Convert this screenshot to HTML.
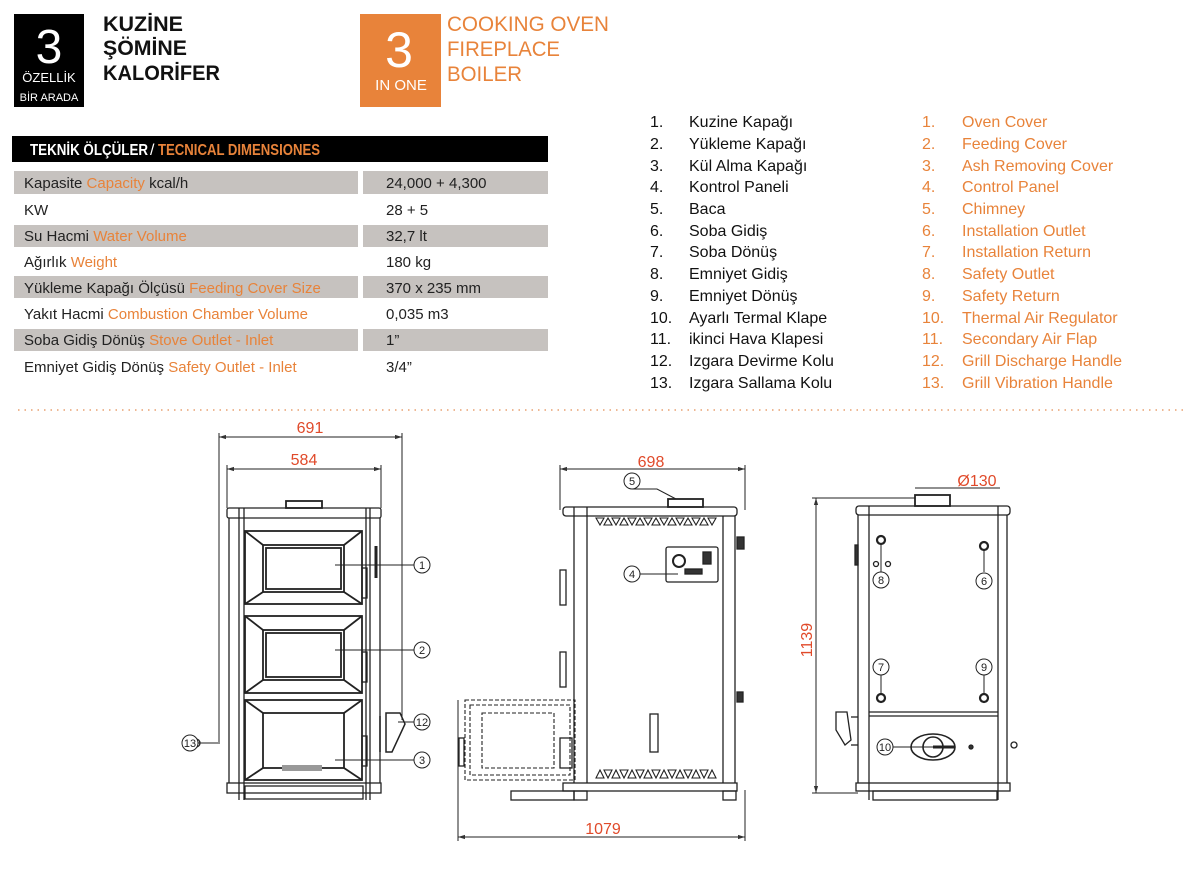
<!DOCTYPE html>
<html><head><meta charset="utf-8"><style>
html,body{margin:0;padding:0;background:#fff;width:1200px;height:870px;overflow:hidden}
svg{display:block}
text{font-family:"Liberation Sans","DejaVu Sans",sans-serif}
</style></head><body>
<svg width="1200" height="870" viewBox="0 0 1200 870" xmlns="http://www.w3.org/2000/svg">
<!-- header -->
<rect x="14" y="14" width="70" height="93" fill="#000"/>
<text x="49" y="63" font-size="48" fill="#fff" text-anchor="middle">3</text>
<text x="49" y="82" font-size="13" fill="#fff" text-anchor="middle">ÖZELLİK</text>
<text x="49" y="101" font-size="11" fill="#fff" text-anchor="middle">BİR ARADA</text>
<g font-size="21" font-weight="bold" fill="#111">
<text x="103" y="31" textLength="80" lengthAdjust="spacingAndGlyphs">KUZİNE</text>
<text x="103" y="55" textLength="84" lengthAdjust="spacingAndGlyphs">ŞÖMİNE</text>
<text x="103" y="80" textLength="117" lengthAdjust="spacingAndGlyphs">KALORİFER</text>
</g>
<rect x="360" y="14" width="81" height="93" fill="#e8833a"/>
<text x="399" y="67" font-size="50" fill="#fff" text-anchor="middle">3</text>
<text x="401" y="90" font-size="15" fill="#fff" text-anchor="middle">IN ONE</text>
<g font-size="21" fill="#e8833a">
<text x="447" y="31" textLength="162" lengthAdjust="spacingAndGlyphs">COOKING OVEN</text>
<text x="447" y="56" textLength="113" lengthAdjust="spacingAndGlyphs">FIREPLACE</text>
<text x="447" y="81" textLength="75" lengthAdjust="spacingAndGlyphs">BOILER</text>
</g>
<!-- table -->
<rect x="12" y="136" width="536" height="26" fill="#000"/>
<text x="30" y="155" font-size="16" font-weight="bold" fill="#fff" textLength="118" lengthAdjust="spacingAndGlyphs">TEKNİK ÖLÇÜLER</text>
<text x="150" y="155" font-size="16" fill="#fff">/</text>
<text x="158" y="155" font-size="16" font-weight="bold" fill="#e8833a" textLength="162" lengthAdjust="spacingAndGlyphs">TECNICAL DIMENSIONES</text>
<g fill="#c6c2bf">
<rect x="14" y="171" width="344" height="23"/><rect x="363" y="171" width="185" height="23"/>
<rect x="14" y="225" width="344" height="22"/><rect x="363" y="225" width="185" height="22"/>
<rect x="14" y="276" width="344" height="22"/><rect x="363" y="276" width="185" height="22"/>
<rect x="14" y="329" width="344" height="22"/><rect x="363" y="329" width="185" height="22"/>
</g>
<g font-size="15" fill="#222">
<text x="24" y="188">Kapasite <tspan fill="#e8833a">Capacity</tspan>  kcal/h</text>
<text x="24" y="215">KW</text>
<text x="24" y="241">Su Hacmi  <tspan fill="#e8833a">Water Volume</tspan></text>
<text x="24" y="267">Ağırlık <tspan fill="#e8833a">Weight</tspan></text>
<text x="24" y="293">Yükleme Kapağı Ölçüsü <tspan fill="#e8833a">Feeding Cover Size</tspan></text>
<text x="24" y="319">Yakıt Hacmi <tspan fill="#e8833a">Combustion Chamber Volume</tspan></text>
<text x="24" y="345">Soba Gidiş Dönüş <tspan fill="#e8833a">Stove Outlet - Inlet</tspan></text>
<text x="24" y="372">Emniyet Gidiş Dönüş <tspan fill="#e8833a">Safety Outlet - Inlet</tspan></text>
<text x="386" y="188">24,000 + 4,300</text>
<text x="386" y="215">28 + 5</text>
<text x="386" y="241">32,7 lt</text>
<text x="386" y="267">180 kg</text>
<text x="386" y="293">370 x 235 mm</text>
<text x="386" y="319">0,035 m3</text>
<text x="386" y="345">1”</text>
<text x="386" y="372">3/4”</text>
</g>
<!-- lists -->
<g font-size="16" fill="#111">
<text x="650" y="127">1.</text><text x="689" y="127">Kuzine Kapağı</text>
<text x="650" y="149">2.</text><text x="689" y="149">Yükleme Kapağı</text>
<text x="650" y="171">3.</text><text x="689" y="171">Kül Alma Kapağı</text>
<text x="650" y="192">4.</text><text x="689" y="192">Kontrol Paneli</text>
<text x="650" y="214">5.</text><text x="689" y="214">Baca</text>
<text x="650" y="236">6.</text><text x="689" y="236">Soba Gidiş</text>
<text x="650" y="257">7.</text><text x="689" y="257">Soba Dönüş</text>
<text x="650" y="279">8.</text><text x="689" y="279">Emniyet Gidiş</text>
<text x="650" y="301">9.</text><text x="689" y="301">Emniyet Dönüş</text>
<text x="650" y="323">10.</text><text x="689" y="323">Ayarlı Termal Klape</text>
<text x="650" y="344">11.</text><text x="689" y="344">ikinci Hava Klapesi</text>
<text x="650" y="366">12.</text><text x="689" y="366">Izgara Devirme Kolu</text>
<text x="650" y="388">13.</text><text x="689" y="388">Izgara Sallama Kolu</text>
</g>
<g font-size="16" fill="#e8833a">
<text x="922" y="127">1.</text><text x="962" y="127">Oven Cover</text>
<text x="922" y="149">2.</text><text x="962" y="149">Feeding Cover</text>
<text x="922" y="171">3.</text><text x="962" y="171">Ash Removing Cover</text>
<text x="922" y="192">4.</text><text x="962" y="192">Control Panel</text>
<text x="922" y="214">5.</text><text x="962" y="214">Chimney</text>
<text x="922" y="236">6.</text><text x="962" y="236">Installation Outlet</text>
<text x="922" y="257">7.</text><text x="962" y="257">Installation Return</text>
<text x="922" y="279">8.</text><text x="962" y="279">Safety Outlet</text>
<text x="922" y="301">9.</text><text x="962" y="301">Safety Return</text>
<text x="922" y="323">10.</text><text x="962" y="323">Thermal Air Regulator</text>
<text x="922" y="344">11.</text><text x="962" y="344">Secondary Air Flap</text>
<text x="922" y="366">12.</text><text x="962" y="366">Grill Discharge Handle</text>
<text x="922" y="388">13.</text><text x="962" y="388">Grill Vibration Handle</text>
</g>
<line x1="18" y1="410" x2="1186" y2="410" stroke="#e8a070" stroke-width="1.5" stroke-dasharray="1.5 5"/>

<defs>
<marker id="ar" viewBox="0 0 10 10" refX="10" refY="5" markerWidth="7" markerHeight="7" orient="auto-start-reverse"><path d="M0,2 L10,5 L0,8z" fill="#333"/></marker>
</defs>
<g stroke="#222" stroke-width="1.3" fill="none">
<!-- FRONT VIEW dims -->
<line x1="219" y1="437" x2="402" y2="437" stroke-width="1" marker-start="url(#ar)" marker-end="url(#ar)"/>
<line x1="219" y1="433" x2="219" y2="742" stroke-width="1"/>
<line x1="402" y1="433" x2="402" y2="720" stroke-width="1"/>
<line x1="227" y1="469" x2="381" y2="469" stroke-width="1" marker-start="url(#ar)" marker-end="url(#ar)"/>
<line x1="227" y1="465" x2="227" y2="508" stroke-width="1"/>
<line x1="381" y1="465" x2="381" y2="508" stroke-width="1"/>
<!-- front body -->
<rect x="286" y="501" width="36" height="7" fill="#fff" stroke-width="1.8"/>
<rect x="227" y="508" width="154" height="10" rx="2"/>
<line x1="239" y1="508" x2="239" y2="800"/><line x1="244" y1="508" x2="244" y2="800"/>
<line x1="366" y1="508" x2="366" y2="800"/><line x1="370" y1="508" x2="370" y2="800"/>
<line x1="229" y1="518" x2="229" y2="783"/><line x1="380" y1="518" x2="380" y2="783"/>
<rect x="227" y="783" width="154" height="10"/>
<rect x="245" y="786" width="118" height="13"/>
<line x1="376" y1="546" x2="376" y2="578" stroke-width="3"/>
<!-- doors -->
<g stroke-width="1.8">
<rect x="245" y="531" width="117" height="73"/><rect x="263" y="545" width="81" height="47"/><rect x="266" y="548" width="75" height="41"/>
<path d="M245,531 L263,545 M362,531 L344,545 M245,604 L263,592 M362,604 L344,592"/>
<rect x="245" y="616" width="117" height="77"/><rect x="263" y="630" width="81" height="50"/><rect x="266" y="633" width="75" height="44"/>
<path d="M245,616 L263,630 M362,616 L344,630 M245,693 L263,680 M362,693 L344,680"/>
<rect x="245" y="700" width="117" height="80"/><rect x="263" y="713" width="81" height="55"/>
<path d="M245,700 L263,713 M362,700 L344,713 M245,780 L263,768 M362,780 L344,768"/>
</g>
<rect x="282" y="765" width="40" height="6" fill="#999" stroke="none"/>
<rect x="362" y="568" width="5" height="30"/><rect x="362" y="652" width="5" height="30"/><rect x="362" y="736" width="5" height="30"/>
<!-- handle 12 -->
<path d="M380,716 L380,752 M386,713 L400,713 L405,724 L392,752 L386,752z" stroke-width="1.5"/>
<circle cx="196" cy="743" r="4" fill="#fff"/>
<!-- callouts front -->
<g stroke-width="1">
<line x1="335" y1="565" x2="414" y2="565"/><circle cx="422" cy="565" r="8" fill="#fff"/>
<line x1="335" y1="650" x2="414" y2="650"/><circle cx="422" cy="650" r="8" fill="#fff"/>
<line x1="335" y1="760" x2="414" y2="760"/><circle cx="422" cy="760" r="8" fill="#fff"/>
<line x1="398" y1="722" x2="414" y2="722"/><circle cx="422" cy="722" r="8" fill="#fff"/>
<line x1="198" y1="743" x2="220" y2="743"/><circle cx="190" cy="743" r="8" fill="#fff"/>
</g>

<!-- SIDE VIEW -->
<line x1="560" y1="469" x2="745" y2="469" stroke-width="1" marker-start="url(#ar)" marker-end="url(#ar)"/>
<line x1="560" y1="465" x2="560" y2="510" stroke-width="1"/><line x1="745" y1="465" x2="745" y2="510" stroke-width="1"/>
<line x1="458" y1="837" x2="745" y2="837" stroke-width="1" marker-start="url(#ar)" marker-end="url(#ar)"/>
<line x1="458" y1="700" x2="458" y2="841" stroke-width="1"/><line x1="745" y1="790" x2="745" y2="841" stroke-width="1"/>
<rect x="668" y="499" width="35" height="8" fill="#fff" stroke-width="1.8"/>
<rect x="563" y="507" width="174" height="9" rx="3"/>
<line x1="574" y1="507" x2="574" y2="783"/><line x1="587" y1="507" x2="587" y2="783"/>
<line x1="723" y1="516" x2="723" y2="783"/><line x1="735" y1="516" x2="735" y2="783"/>
<rect x="563" y="783" width="174" height="8"/>
<rect x="574" y="791" width="13" height="9"/><rect x="723" y="791" width="13" height="9"/>
<rect x="511" y="791" width="63" height="9"/>
<rect x="666" y="547" width="52" height="35" rx="2"/>
<circle cx="679" cy="561" r="6" stroke-width="2"/>
<rect x="685" y="569" width="17" height="5" fill="#333"/>
<rect x="703" y="552" width="8" height="12" fill="#333"/>
<rect x="560" y="570" width="6" height="35"/><rect x="560" y="652" width="6" height="35"/>
<rect x="737" y="537" width="7" height="12" fill="#333"/><rect x="737" y="692" width="6" height="10" fill="#333"/>
<rect x="650" y="714" width="8" height="38"/>
<g stroke-dasharray="4 2" stroke-width="1.1">
<rect x="465" y="700" width="110" height="80"/><rect x="470" y="705" width="100" height="70"/>
<rect x="482" y="713" width="72" height="55"/>
</g>
<rect x="459" y="738" width="5" height="28"/>
<rect x="560" y="738" width="12" height="30"/>
<g stroke-width="1">
<path d="M632,489 L657,489 L676,499"/><circle cx="632" cy="481" r="8" fill="#fff"/>
<line x1="640" y1="574" x2="678" y2="574"/><circle cx="632" cy="574" r="8" fill="#fff"/>
</g>

<!-- BACK VIEW -->
<line x1="816" y1="498" x2="816" y2="793" stroke-width="1" marker-start="url(#ar)" marker-end="url(#ar)"/>
<line x1="812" y1="498" x2="915" y2="498" stroke-width="1"/>
<line x1="812" y1="793" x2="858" y2="793" stroke-width="1"/>
<line x1="915" y1="488" x2="1000" y2="488" stroke-width="1"/>
<rect x="915" y="495" width="35" height="11" fill="#fff" stroke-width="1.8"/>
<rect x="856" y="506" width="154" height="9" rx="3"/>
<line x1="858" y1="515" x2="858" y2="783"/><line x1="869" y1="506" x2="869" y2="800"/>
<line x1="998" y1="506" x2="998" y2="800"/><line x1="1007" y1="515" x2="1007" y2="783"/>
<line x1="869" y1="712" x2="998" y2="712"/><line x1="869" y1="716" x2="998" y2="716"/>
<rect x="856" y="783" width="154" height="8"/>
<rect x="873" y="791" width="124" height="9"/>
<rect x="855" y="545" width="3" height="20" fill="#333"/>
<path d="M836,712 L847,712 L851,740 L845,745 L836,730z"/>
<line x1="851" y1="717" x2="858" y2="717"/><line x1="851" y1="745" x2="858" y2="745"/>
<circle cx="1014" cy="745" r="3"/>
<circle cx="881" cy="540" r="4" stroke-width="2.2"/><circle cx="984" cy="546" r="4" stroke-width="2.2"/>
<circle cx="876" cy="564" r="2.5"/><circle cx="888" cy="564" r="2.5"/>
<circle cx="881" cy="698" r="4" stroke-width="2.2"/><circle cx="984" cy="698" r="4" stroke-width="2.2"/>
<g stroke-width="1">
<line x1="881" y1="544" x2="881" y2="572"/><line x1="984" y1="550" x2="984" y2="572"/>
<line x1="881" y1="675" x2="881" y2="694"/><line x1="984" y1="675" x2="984" y2="694"/>
<circle cx="881" cy="580" r="8" fill="#fff"/><circle cx="984" cy="581" r="8" fill="#fff"/>
<circle cx="881" cy="667" r="8" fill="#fff"/><circle cx="984" cy="667" r="8" fill="#fff"/>
</g>
<ellipse cx="933" cy="747" rx="22" ry="13" stroke-width="1.6"/>
<circle cx="933" cy="747" r="10" stroke-width="1.6"/>
<line x1="933" y1="747" x2="955" y2="747" stroke-width="3"/>
<circle cx="971" cy="747" r="2" fill="#333"/>
<line x1="892" y1="747" x2="933" y2="747" stroke-width="1"/><circle cx="885" cy="747" r="8" fill="#fff" stroke-width="1"/>
</g>
<!-- vents on side -->
<g fill="none" stroke="#222" stroke-width="1.1">
<path d="M596,518 l8,0 l-4,7z M612,518 l8,0 l-4,7z M628,518 l8,0 l-4,7z M644,518 l8,0 l-4,7z M660,518 l8,0 l-4,7z M676,518 l8,0 l-4,7z M692,518 l8,0 l-4,7z M708,518 l8,0 l-4,7z"/>
<path d="M604,525 l8,0 l-4,-7z M620,525 l8,0 l-4,-7z M636,525 l8,0 l-4,-7z M652,525 l8,0 l-4,-7z M668,525 l8,0 l-4,-7z M684,525 l8,0 l-4,-7z M700,525 l8,0 l-4,-7z"/>
<path d="M596,778 l8,0 l-4,-8z M612,778 l8,0 l-4,-8z M628,778 l8,0 l-4,-8z M644,778 l8,0 l-4,-8z M660,778 l8,0 l-4,-8z M676,778 l8,0 l-4,-8z M692,778 l8,0 l-4,-8z M708,778 l8,0 l-4,-8z"/>
<path d="M604,770 l8,0 l-4,8z M620,770 l8,0 l-4,8z M636,770 l8,0 l-4,8z M652,770 l8,0 l-4,8z M668,770 l8,0 l-4,8z M684,770 l8,0 l-4,8z M700,770 l8,0 l-4,8z"/>
</g>
<!-- callout numbers -->
<g font-size="11" fill="#222" text-anchor="middle">
<text x="422" y="569">1</text><text x="422" y="654">2</text><text x="422" y="764">3</text><text x="422" y="726">12</text><text x="190" y="747">13</text>
<text x="632" y="485">5</text><text x="632" y="578">4</text>
<text x="881" y="584">8</text><text x="984" y="585">6</text><text x="881" y="671">7</text><text x="984" y="671">9</text><text x="885" y="751">10</text>
</g>
<!-- dimension labels -->
<g font-size="16" fill="#e04a2a" text-anchor="middle">
<text x="310" y="433">691</text>
<text x="304" y="465">584</text>
<text x="651" y="467">698</text>
<text x="603" y="834">1079</text>
<text x="977" y="486">Ø130</text>
<text x="0" y="0" transform="translate(812,640) rotate(-90)">1139</text>
</g>
</svg>
</body></html>
